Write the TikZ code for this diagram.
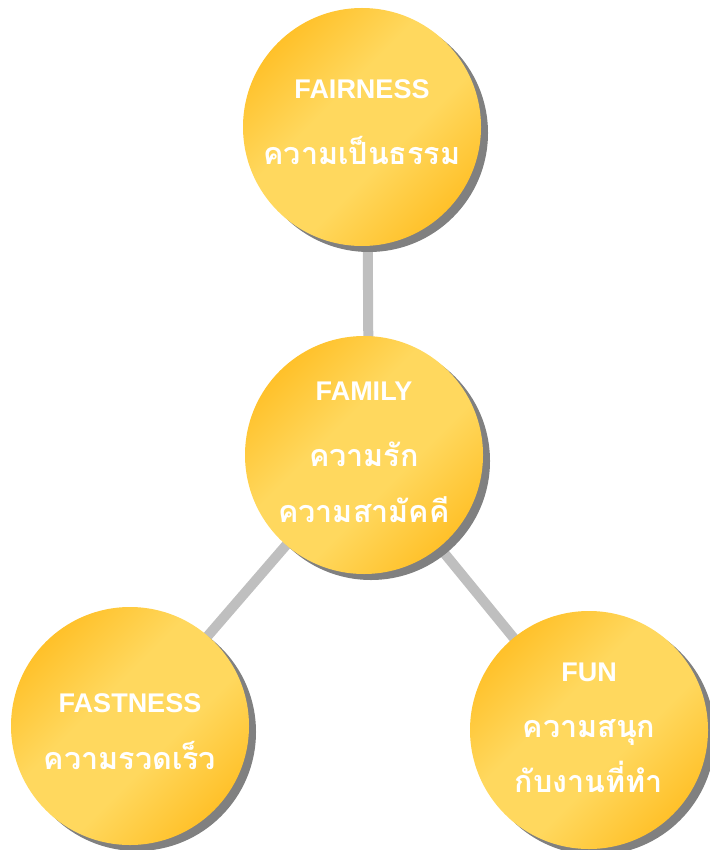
\documentclass[tikz,border=0pt]{standalone}
\usepackage{fontspec}
\setmainfont{Liberation Sans}
\newfontfamily\thaifont[Script=Thai]{Loma}
\usetikzlibrary{backgrounds,shadows}
\definecolor{ydark}{HTML}{FFC12A}
\definecolor{ylight}{HTML}{FFD85E}
\definecolor{connc}{HTML}{BFBFBF}
\definecolor{shadec}{HTML}{808080}
\pgfdeclareverticalshading{ballshade}{100bp}{color(0bp)=(ydark); color(25bp)=(ydark); color(42bp)=(ylight); color(58bp)=(ylight); color(75bp)=(ydark); color(100bp)=(ydark)}
\tikzset{
  ball/.style={circle, minimum size=238pt, inner sep=0pt,
    shading=ballshade, shading angle=45,
    drop shadow={shadow xshift=7pt, shadow yshift=-6pt, fill=shadec, opacity=1},
    text=white, font=\bfseries\fontsize{27}{56}\selectfont},
  link/.style={draw=connc, line width=10pt}
}
\newcommand\thline[1]{{\thaifont\fontsize{30.5}{56}\selectfont #1}}
\newcommand\balltext[2]{\raisebox{#1}[0pt][0pt]{\makebox[0pt]{\begin{tabular}{@{}c@{}}#2\end{tabular}}}}
\begin{document}
\begin{tikzpicture}[x=1pt, y=-1pt]
\useasboundingbox (0,0) rectangle (709,850);
\node[ball] (top) at (362,127) {\balltext{0pt}{FAIRNESS\\[10pt]\thline{ความเป็นธรรม}}};
\node[ball] (mid) at (364,455) {\balltext{-1.5pt}{FAMILY\\[10pt]\thline{ความรัก}\\\thline{ความสามัคคี}}};
\node[ball] (left) at (130,726) {\balltext{-10.5pt}{FASTNESS\\[1pt]\thline{ความรวดเร็ว}}};
\node[ball] (right) at (589,730) {\balltext{-2pt}{FUN\\\thline{ความสนุก}\\[-1pt]\thline{กับงานที่ทำ}}};
\begin{scope}[on background layer]
  \draw[link] ([xshift=5pt]top.center) -- ([xshift=5pt]mid.center);
  \draw[link] (mid.center) -- (left.center);
  \draw[link] (mid.center) -- (right.center);
\end{scope}
\end{tikzpicture}
\end{document}
